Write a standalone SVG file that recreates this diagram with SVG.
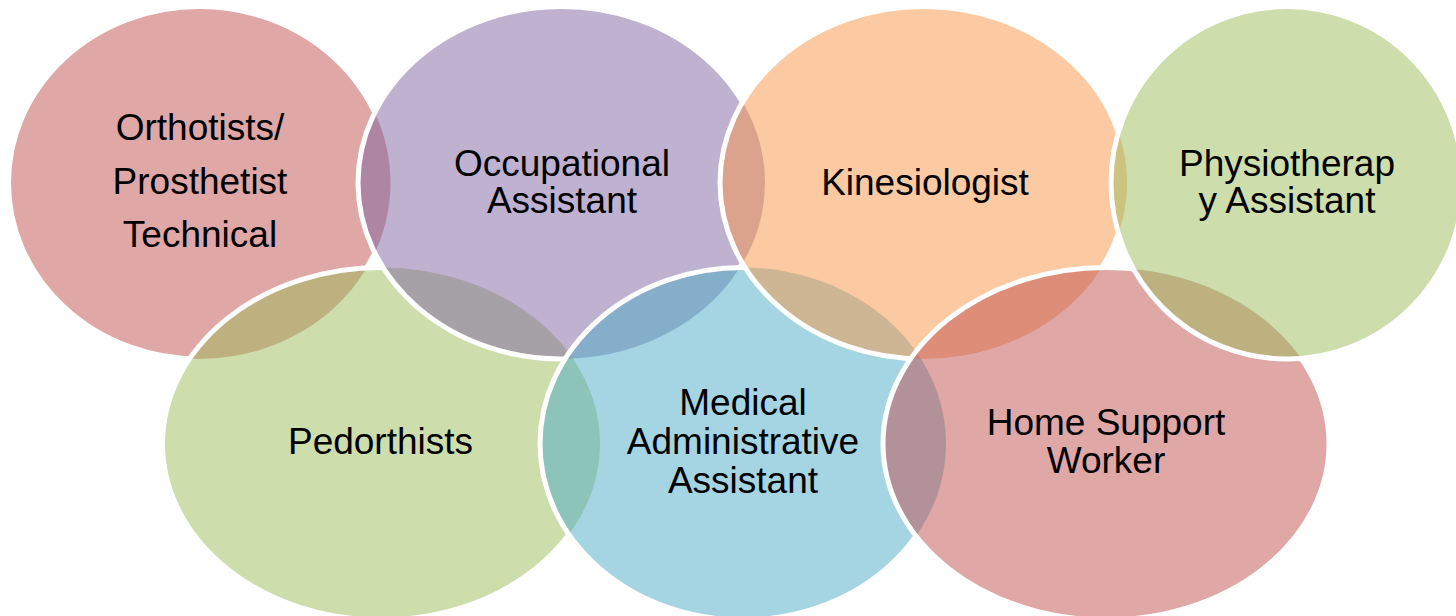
<svg xmlns="http://www.w3.org/2000/svg" width="1456" height="616" viewBox="0 0 1456 616">
<style>
  .f { fill-opacity: 0.5; stroke: none; }
  .s { fill: none; stroke: #FFFFFF; stroke-width: 5; }
  .t { font-family: "Liberation Sans", Arial, sans-serif; font-size: 37px; fill: #000000; text-anchor: middle; }
  .k { fill: #000000; }
</style>
<defs>
  <mask id="m0" maskUnits="userSpaceOnUse" x="0" y="0" width="1456" height="616">
    <rect x="0" y="0" width="1456" height="616" fill="#FFFFFF"/>
    <ellipse class="k" cx="381.25" cy="443.75" rx="218.75" ry="176.25"/>
    <ellipse class="k" cx="561.5" cy="182.75" rx="203.5" ry="176.25"/>
    <ellipse class="k" cx="743" cy="443.75" rx="203" ry="176.25"/>
    <ellipse class="k" cx="923.5" cy="182.75" rx="203.5" ry="176.25"/>
    <ellipse class="k" cx="1106" cy="443.75" rx="223" ry="176.25"/>
    <ellipse class="k" cx="1287" cy="182.75" rx="176" ry="176.25"/>
  </mask>
  <mask id="m1" maskUnits="userSpaceOnUse" x="0" y="0" width="1456" height="616">
    <rect x="0" y="0" width="1456" height="616" fill="#FFFFFF"/>
    <ellipse class="k" cx="561.5" cy="182.75" rx="203.5" ry="176.25"/>
    <ellipse class="k" cx="743" cy="443.75" rx="203" ry="176.25"/>
    <ellipse class="k" cx="923.5" cy="182.75" rx="203.5" ry="176.25"/>
    <ellipse class="k" cx="1106" cy="443.75" rx="223" ry="176.25"/>
    <ellipse class="k" cx="1287" cy="182.75" rx="176" ry="176.25"/>
  </mask>
  <mask id="m2" maskUnits="userSpaceOnUse" x="0" y="0" width="1456" height="616">
    <rect x="0" y="0" width="1456" height="616" fill="#FFFFFF"/>
    <ellipse class="k" cx="743" cy="443.75" rx="203" ry="176.25"/>
    <ellipse class="k" cx="923.5" cy="182.75" rx="203.5" ry="176.25"/>
    <ellipse class="k" cx="1106" cy="443.75" rx="223" ry="176.25"/>
    <ellipse class="k" cx="1287" cy="182.75" rx="176" ry="176.25"/>
  </mask>
  <mask id="m3" maskUnits="userSpaceOnUse" x="0" y="0" width="1456" height="616">
    <rect x="0" y="0" width="1456" height="616" fill="#FFFFFF"/>
    <ellipse class="k" cx="923.5" cy="182.75" rx="203.5" ry="176.25"/>
    <ellipse class="k" cx="1106" cy="443.75" rx="223" ry="176.25"/>
    <ellipse class="k" cx="1287" cy="182.75" rx="176" ry="176.25"/>
  </mask>
  <mask id="m4" maskUnits="userSpaceOnUse" x="0" y="0" width="1456" height="616">
    <rect x="0" y="0" width="1456" height="616" fill="#FFFFFF"/>
    <ellipse class="k" cx="1106" cy="443.75" rx="223" ry="176.25"/>
    <ellipse class="k" cx="1287" cy="182.75" rx="176" ry="176.25"/>
  </mask>
  <mask id="m5" maskUnits="userSpaceOnUse" x="0" y="0" width="1456" height="616">
    <rect x="0" y="0" width="1456" height="616" fill="#FFFFFF"/>
    <ellipse class="k" cx="1287" cy="182.75" rx="176" ry="176.25"/>
  </mask>
</defs>
<rect x="0" y="0" width="1456" height="616" fill="#FFFFFF"/>

<g id="orthotists">
  <ellipse class="f" fill="#C0504D" cx="199.5" cy="182.75" rx="191" ry="176.25"/>
  <ellipse class="s" mask="url(#m0)" cx="199.5" cy="182.75" rx="191" ry="176.25"/>
  <text class="t" x="200" y="140">Orthotists/</text>
  <text class="t" x="200" y="193.5">Prosthetist</text>
  <text class="t" x="200" y="247">Technical</text>
</g>

<g id="pedorthists">
  <ellipse class="f" fill="#9BBB59" cx="381.25" cy="443.75" rx="218.75" ry="176.25"/>
  <ellipse class="s" mask="url(#m1)" cx="381.25" cy="443.75" rx="218.75" ry="176.25"/>
  <text class="t" x="380.5" y="454">Pedorthists</text>
</g>

<g id="occupational">
  <ellipse class="f" fill="#8064A2" cx="561.5" cy="182.75" rx="203.5" ry="176.25"/>
  <ellipse class="s" mask="url(#m2)" cx="561.5" cy="182.75" rx="203.5" ry="176.25"/>
  <text class="t" x="562" y="175.5">Occupational</text>
  <text class="t" x="562" y="213">Assistant</text>
</g>

<g id="medical">
  <ellipse class="f" fill="#4BACC6" cx="743" cy="443.75" rx="203" ry="176.25"/>
  <ellipse class="s" mask="url(#m3)" cx="743" cy="443.75" rx="203" ry="176.25"/>
  <text class="t" x="743" y="415">Medical</text>
  <text class="t" x="743" y="454">Administrative</text>
  <text class="t" x="743" y="492.5">Assistant</text>
</g>

<g id="kinesiologist">
  <ellipse class="f" fill="#F79646" cx="923.5" cy="182.75" rx="203.5" ry="176.25"/>
  <ellipse class="s" mask="url(#m4)" cx="923.5" cy="182.75" rx="203.5" ry="176.25"/>
  <text class="t" x="925" y="195">Kinesiologist</text>
</g>

<g id="home-support">
  <ellipse class="f" fill="#C0504D" cx="1106" cy="443.75" rx="223" ry="176.25"/>
  <ellipse class="s" mask="url(#m5)" cx="1106" cy="443.75" rx="223" ry="176.25"/>
  <text class="t" x="1106" y="435">Home Support</text>
  <text class="t" x="1106" y="472.5">Worker</text>
</g>

<g id="physiotherapy">
  <ellipse class="f" fill="#9BBB59" cx="1287" cy="182.75" rx="176" ry="176.25"/>
  <ellipse class="s" cx="1287" cy="182.75" rx="176" ry="176.25"/>
  <text class="t" x="1287" y="175.5">Physiotherap</text>
  <text class="t" x="1287" y="212.5">y Assistant</text>
</g>

<g id="connectors"></g>
</svg>
